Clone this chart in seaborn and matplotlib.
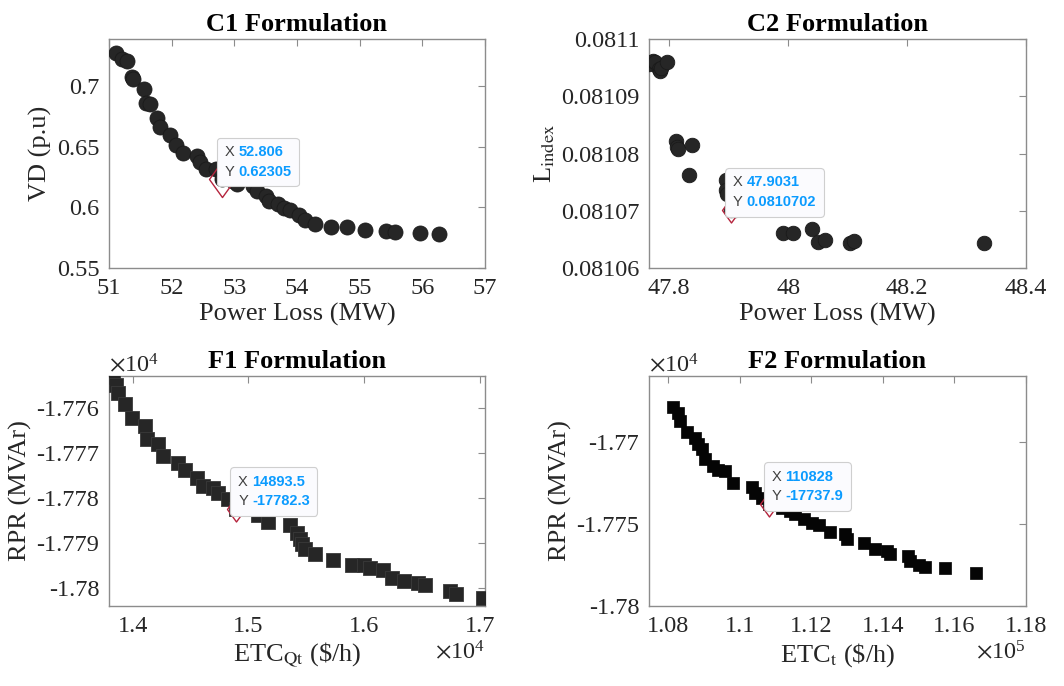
import matplotlib
matplotlib.use("Agg")
import numpy as np
import pandas as pd
import seaborn as sns
import matplotlib.pyplot as plt
from matplotlib.ticker import ScalarFormatter, FuncFormatter
from matplotlib.offsetbox import TextArea, HPacker, VPacker, AnnotationBbox

# ---------------- data ----------------
c1_loss = [51.11, 51.20, 51.29, 51.36, 51.39, 51.56, 51.59, 51.66, 51.76, 51.82,
           51.97, 52.07, 52.18, 52.40, 52.46, 52.55, 52.70, 52.806, 52.98, 53.04,
           53.30, 53.36, 53.51, 53.56, 53.70, 53.79, 53.89, 54.03, 54.13, 54.29,
           54.55, 54.79, 55.09, 55.42, 55.57, 55.97, 56.27]
c1_vd = [0.7276, 0.7228, 0.7205, 0.7075, 0.7060, 0.6980, 0.6865, 0.6855, 0.6740, 0.6660,
         0.6600, 0.6515, 0.6450, 0.6425, 0.6375, 0.6315, 0.6320, 0.62305, 0.6215, 0.6195,
         0.6175, 0.6135, 0.6095, 0.6055, 0.6025, 0.5995, 0.5975, 0.5935, 0.5895, 0.5860,
         0.5840, 0.5840, 0.5812, 0.5805, 0.5798, 0.5792, 0.5784]

c2_loss = [47.766, 47.772, 47.776, 47.782, 47.784, 47.786, 47.797, 47.811, 47.813, 47.815,
           47.838, 47.834, 47.896, 47.896, 47.898, 47.9031, 47.910, 47.992, 48.008, 48.040,
           48.050, 48.062, 48.104, 48.110, 48.330]
c2_lidx = [0.0810956, 0.0810961, 0.0810960, 0.0810948, 0.0810944, 0.0810950, 0.0810959,
           0.0810822, 0.0810812, 0.0810808, 0.0810815, 0.0810763, 0.0810753, 0.0810737,
           0.0810730, 0.0810702, 0.0810701, 0.0810661, 0.0810662, 0.0810668, 0.0810646,
           0.0810649, 0.0810643, 0.0810648, 0.0810643]

f1_etc = [13833, 13856, 13876, 13934, 13991, 14107, 14121, 14222, 14259, 14395,
          14452, 14559, 14611, 14697, 14741, 14827, 14893.5, 15081, 15167, 15360,
          15418, 15447, 15461, 15490, 15576, 15735, 15893, 16000, 16052, 16167,
          16239, 16349, 16470, 16527, 16744, 16795, 17030]
f1_rpr = [-17753.0, -17754.7, -17756.5, -17759.1, -17762.1, -17763.8, -17766.9, -17768.0,
          -17770.6, -17772.1, -17773.6, -17775.4, -17777.3, -17777.6, -17778.7, -17780.1,
          -17782.3, -17783.6, -17785.3, -17785.8, -17787.6, -17789.1, -17790.2, -17791.3,
          -17792.4, -17793.6, -17794.7, -17794.9, -17795.5, -17796.0, -17797.6, -17798.4,
          -17798.7, -17799.3, -17800.6, -17801.3, -17802.1]

f2_etc = [108140, 108280, 108330, 108510, 108750, 108840, 108930, 109030, 109260, 109400,
          109590, 109820, 110330, 110430, 110610, 110828, 111170, 111400, 111540, 111780,
          112010, 112200, 112520, 112940, 112990, 113480, 113770, 114110, 114200, 114700,
          114760, 115000, 115180, 115740, 116610]
f2_rpr = [-17678.9, -17682.4, -17687.4, -17694.1, -17697.6, -17701.6, -17704.7, -17710.8,
          -17714.8, -17717.4, -17717.8, -17724.9, -17727.4, -17731.0, -17734.1, -17737.9,
          -17740.2, -17742.2, -17744.2, -17746.9, -17749.3, -17750.9, -17755.0, -17756.4,
          -17759.4, -17761.5, -17765.1, -17766.5, -17768.6, -17769.6, -17772.6, -17775.3,
          -17776.1, -17777.1, -17779.7]

titles = ["C1 Formulation", "C2 Formulation", "F1 Formulation", "F2 Formulation"]
xlabels = ["Power Loss (MW)", "Power Loss (MW)", r"ETC$_{\mathrm{Qt}}$ (\$/h)", r"ETC$_{\mathrm{t}}$ (\$/h)"]
ylabels = ["VD (p.u)", r"L$_{\mathrm{index}}$", "RPR (MVAr)", "RPR (MVAr)"]
tip_points = [(52.806, 0.62305), (47.9031, 0.0810702), (14893.5, -17782.3), (110828, -17737.9)]

c1_xticks = [51, 52, 53, 54, 55, 56, 57]
c1_yticks = [0.55, 0.6, 0.65, 0.7]
c2_xticks = [47.8, 48.0, 48.2, 48.4]
c2_yticks = [0.08106, 0.08107, 0.08108, 0.08109, 0.0811]
f1_xticks = [14000, 15000, 16000, 17000]
f1_yticks = [-17800, -17790, -17780, -17770, -17760]
f2_xticks = [108000, 110000, 112000, 114000, 116000, 118000]
f2_yticks = [-17800, -17750, -17700]

# ---------------- style ----------------
sns.set_theme(style="white")
plt.rcParams["font.family"] = ["Liberation Serif", "DejaVu Serif"]
plt.rcParams["mathtext.fontset"] = "stix"
plt.rcParams["axes.unicode_minus"] = False

TXT = "#262626"
SPINE = "#8c8c8c"


class MatlabSci(ScalarFormatter):
    def __init__(self):
        super().__init__(useOffset=False, useMathText=True)
        self.set_powerlimits((-3, 4))

    def __call__(self, x, pos=None):
        v = x / 10.0 ** self.orderOfMagnitude
        return "%g" % round(v, 8)


plain = FuncFormatter(lambda v, p: "%g" % round(v, 10))

fig = plt.figure(figsize=(10.64, 6.86), dpi=100)
W, H = 1064.0, 686.0
rects = [(109, 39, 485, 268), (649, 39, 1026, 268), (109, 376, 485, 606), (649, 376, 1026, 606)]
axes = [fig.add_axes([l / W, 1 - b / H, (r - l) / W, (b - t) / H]) for (l, t, r, b) in rects]

diamond = [(0, 1), (0.72, 0), (0, -1), (-0.72, 0), (0, 1)]


def style(ax, xlim, ylim, xt, yt, title, xl, yl, sci=False):
    ax.set_xlim(*xlim)
    ax.set_ylim(*ylim)
    ax.set_xticks(xt)
    ax.set_yticks(yt)
    if sci:
        ax.xaxis.set_major_formatter(MatlabSci())
        ax.yaxis.set_major_formatter(MatlabSci())
        for ot in (ax.xaxis.get_offset_text(), ax.yaxis.get_offset_text()):
            ot.set_fontsize(17.5)
            ot.set_color(TXT)
    else:
        ax.xaxis.set_major_formatter(plain)
        ax.yaxis.set_major_formatter(plain)
    ax.tick_params(direction="in", top=True, right=True, length=5, width=0.8,
                   color=SPINE, labelsize=17.5, labelcolor=TXT, pad=7)
    for s in ax.spines.values():
        s.set_visible(True)
        s.set_color(SPINE)
        s.set_linewidth(1.0)
    ax.set_title(title, fontsize=19, fontweight="bold", color="black", pad=6)
    ax.set_xlabel(xl, fontsize=19, color=TXT, labelpad=3)
    ax.set_ylabel(yl, fontsize=19, color=TXT, labelpad=3)


def datatip(ax, x, y, dsize):
    ax.plot([x], [y], marker=diamond, ms=dsize, mfc="none", mec="#b5243d",
            mew=1.0, ls="none", zorder=5)
    ax.plot([x], [y], marker="o", ms=5, mfc="#1a1a1a", mec="#ecebc0",
            mew=1.0, ls="none", zorder=6)
    rows = []
    for lab, val in (("X", x), ("Y", y)):
        rows.append(HPacker(children=[
            TextArea(lab, textprops=dict(color="#404040", fontsize=10.5, family="Liberation Sans")),
            TextArea("%g" % val, textprops=dict(color="#0a9bff", fontsize=10.5,
                                                fontweight="bold", family="Liberation Sans"))],
            align="baseline", pad=0, sep=3))
    box = VPacker(children=rows, align="left", pad=0, sep=4)
    ab = AnnotationBbox(box, (x, y), xybox=(1.5, 0.5), xycoords="data",
                        boxcoords="offset points", box_alignment=(0, 0),
                        frameon=True, pad=0.5,
                        bboxprops=dict(boxstyle="round,pad=0.5,rounding_size=0.25",
                                       fc="#fbfbfe", ec="#cfcfcf", lw=0.8))
    ab.set_zorder(7)
    ax.add_artist(ab)


# C1
ax = axes[0]
sns.scatterplot(x=c1_loss, y=c1_vd, ax=ax, s=117, marker="o", color="#262626",
                edgecolor="#1a1a1a", linewidth=0.6, legend=False, zorder=3)
style(ax, (51, 57), (0.55, 0.739), c1_xticks, c1_yticks, titles[0], xlabels[0], ylabels[0])
datatip(ax, *tip_points[0], dsize=26)

# C2
ax = axes[1]
sns.scatterplot(x=c2_loss, y=c2_lidx, ax=ax, s=110, marker="o", color="#262626",
                edgecolor="#1a1a1a", linewidth=0.6, legend=False, zorder=3)
style(ax, (47.766, 48.4), (0.08106, 0.0811), c2_xticks, c2_yticks, titles[1], xlabels[1], ylabels[1])
datatip(ax, *tip_points[1], dsize=18)

# F1
ax = axes[2]
sns.scatterplot(x=f1_etc, y=f1_rpr, ax=ax, s=88, marker="s", color="#262626",
                edgecolor="#3a3a3a", linewidth=0.6, legend=False, zorder=3)
style(ax, (13795, 17046), (-17803.9, -17752.8), f1_xticks, f1_yticks, titles[2], xlabels[2], ylabels[2], sci=True)
datatip(ax, *tip_points[2], dsize=18)

# F2
ax = axes[3]
sns.scatterplot(x=f2_etc, y=f2_rpr, ax=ax, s=78, marker="s", color="#050505",
                edgecolor="#050505", linewidth=0.5, legend=False, zorder=3)
style(ax, (107460, 118000), (-17800, -17660), f2_xticks, f2_yticks, titles[3], xlabels[3], ylabels[3], sci=True)
datatip(ax, *tip_points[3], dsize=18)

fig.savefig("out.png", dpi=100)
